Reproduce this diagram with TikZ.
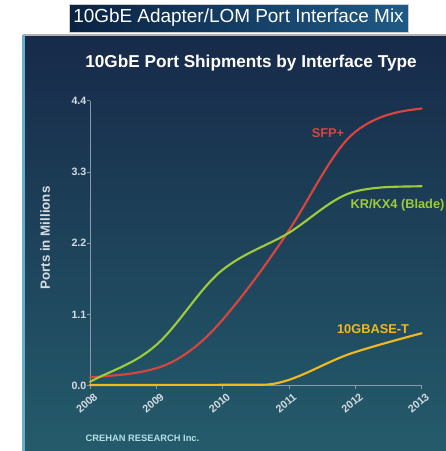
\documentclass[tikz,border=0pt]{standalone}
\usepackage{fontspec}
\setmainfont{Liberation Sans}
\usepackage{tikz}
\usetikzlibrary{calc}

\definecolor{paneltop}{HTML}{172A49}
\definecolor{panelbot}{HTML}{245B6B}
\definecolor{boxleft}{HTML}{0A2242}
\definecolor{boxright}{HTML}{1F5A86}
\definecolor{sfpred}{HTML}{D8453F}
\definecolor{kxgreen}{HTML}{9CCB3B}
\definecolor{baseyellow}{HTML}{F2B91E}
\definecolor{axisgray}{HTML}{8A9AA8}
\definecolor{ticktext}{HTML}{D5DCE2}

\tikzset{
	ticklabel/.style={text=ticktext,font=\bfseries\fontsize{8}{9}\selectfont,inner sep=1pt},
	serieslabel/.style={font=\bfseries\fontsize{9.6}{11}\selectfont},
	curve/.style={line width=1.6pt,line cap=round},
}

\begin{document}
\begin{tikzpicture}[x=0.75pt,y=-0.75pt]
		\useasboundingbox (0,0) rectangle (446,451);
		
		% title box
		\shade[left color=boxleft,right color=boxright,draw=gray!40,line width=0.4pt] (69,4) rectangle (408,32);
		\node[text=white,font=\fontsize{14.2}{16}\selectfont] (maintitle) at (238.5,18) {10GbE Adapter/LOM Port Interface Mix};
		
		% chart panel
		\shade[top color=paneltop,bottom color=panelbot] (23,35) rectangle (446,451);
		\draw[gray!60,line width=0.8pt] (23,35) -- (446,35);
		\fill[cyan!40!teal!70] (22,35) rectangle (25,451);
		\node[text=white,font=\bfseries\fontsize{12.9}{14}\selectfont] (charttitle) at (251,63) {10GbE Port Shipments by Interface Type};
		
		% axes
		\draw[axisgray,line width=0.5pt] (90,100.7) -- (90,385.7) -- (421.7,385.7);
		\foreach \v/\lab in {0/0.0,1/1.1,2/2.2,3/3.3,4/4.4}
			\draw[axisgray,line width=0.5pt] (87,385.7-71.25*\v) -- (90,385.7-71.25*\v) node[ticklabel,anchor=east,xshift=-1.5pt] (ytick\v) {\lab};
		\foreach \yr [count=\i from 0] in {2008,2009,2010,2011,2012,2013}
			\draw[axisgray,line width=0.5pt] (90+66.34*\i,385.7) -- (90+66.34*\i,389) node[ticklabel,anchor=north east,rotate=40,xshift=1.5pt,yshift=-2.5pt] (xtick\i) {\yr};
		\node[text=ticktext,font=\bfseries\fontsize{10}{12}\selectfont,rotate=90] (ylabel) at (45,238) {Ports in Millions};
		\node[text=ticktext!85!cyan,font=\bfseries\fontsize{7}{8}\selectfont,anchor=west] (source) at (81,438) {CREHAN RESEARCH Inc.};
		
		% data curves (year index, millions)
		\begin{scope}[shift={(90,385.7)},x=49.75pt,y=48.58pt]
			\draw[curve,sfpred] (0,0.13) .. controls (0.333,0.157) and (0.667,0.17) .. (1,0.27)
				.. controls (1.333,0.37) and (1.667,0.62) .. (2,1.02)
				.. controls (2.333,1.42) and (2.667,1.883) .. (3,2.4)
				.. controls (3.333,2.917) and (3.667,3.653) .. (4,3.92)
				.. controls (4.333,4.187) and (4.667,4.24) .. (5,4.28);
			\draw[curve,kxgreen] (0,0.06) .. controls (0.333,0.243) and (0.667,0.33) .. (1,0.63)
				.. controls (1.333,0.93) and (1.667,1.523) .. (2,1.79)
				.. controls (2.333,2.057) and (2.667,2.16) .. (3,2.36)
				.. controls (3.333,2.577) and (3.667,2.917) .. (4,3.0)
				.. controls (4.333,3.083) and (4.667,3.07) .. (5,3.08);
			\draw[curve,baseyellow] (0,0.01) -- (2.6,0.015)
				.. controls (2.9,0.015) and (3.2,0.166) .. (3.5,0.31)
				.. controls (3.667,0.39) and (3.833,0.467) .. (4,0.52)
				.. controls (4.333,0.627) and (4.667,0.72) .. (5,0.81);
		\end{scope}
		
		% series labels
		\node[serieslabel,text=sfpred] (sfplab) at (328,133) {SFP+};
		\node[serieslabel,text=kxgreen,anchor=east,inner sep=1pt] (kxlab) at (446,205) {KR/KX4 (Blade)};
		\node[serieslabel,text=baseyellow] (baselab) at (373,329) {10GBASE-T};
		
	\end{tikzpicture}
\end{document}
